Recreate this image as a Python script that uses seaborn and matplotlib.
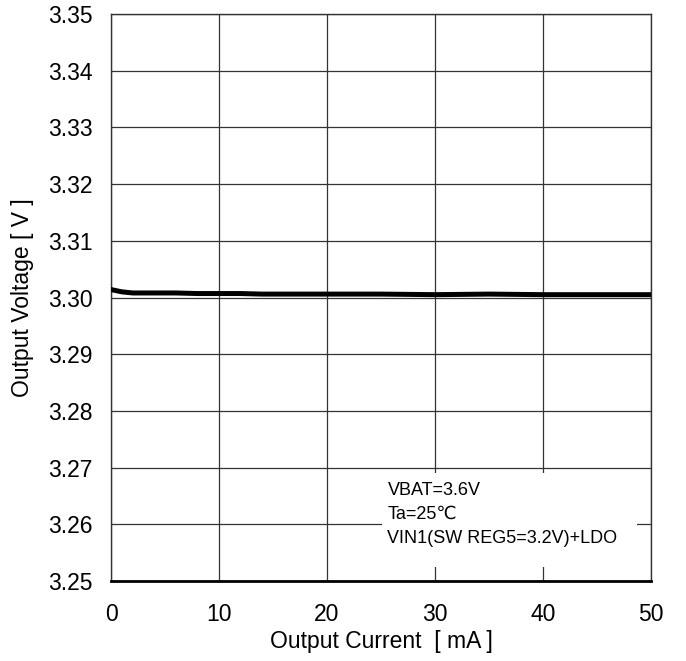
import matplotlib
matplotlib.use("Agg")
import matplotlib.pyplot as plt
import pandas as pd
import seaborn as sns

# Данные
current_ma = [0, 1, 2, 4, 6, 8, 10, 12, 14, 16, 18, 20, 25, 30, 35, 40, 45, 50]
voltage_v = [3.3014, 3.3010, 3.3008, 3.3008, 3.3008, 3.3007, 3.3007, 3.3007, 3.3006,
             3.3006, 3.3006, 3.3006, 3.3006, 3.3005, 3.3006, 3.3005, 3.3005, 3.3005]
x_ticks = [0, 10, 20, 30, 40, 50]
y_ticks = [3.25, 3.26, 3.27, 3.28, 3.29, 3.30, 3.31, 3.32, 3.33, 3.34, 3.35]
note_lines = ["VBAT=3.6V", "Ta=25\u2103", "VIN1(SW REG5=3.2V)+LDO"]

sns.set_style("white")
plt.rcParams['font.family'] = ['Liberation Sans', 'DejaVu Sans']
plt.rcParams['text.color'] = 'black'
plt.rcParams['axes.labelcolor'] = 'black'
plt.rcParams['xtick.color'] = 'black'
plt.rcParams['ytick.color'] = 'black'

df = pd.DataFrame({'Current': current_ma, 'Voltage': voltage_v})

fig = plt.figure(figsize=(6.86, 6.61), dpi=100)
ax = fig.add_axes([111 / 686, 80 / 661, 540 / 686, 567 / 661])

sns.lineplot(x='Current', y='Voltage', data=df, ax=ax, color='black', linewidth=3.6, zorder=3)

ax.set_xlim(0, 50)
ax.set_ylim(3.25, 3.35)
ax.set_xticks(x_ticks)
ax.set_yticks(y_ticks)
ax.set_yticklabels([f"{v:.2f}" for v in y_ticks])
ax.grid(True, color='#333333', linewidth=0.9)
ax.tick_params(length=0, labelsize=16.5)
ax.tick_params(axis='x', pad=16)
ax.tick_params(axis='y', pad=13)

for side in ['left', 'top', 'right']:
    ax.spines[side].set_color('#333333')
    ax.spines[side].set_linewidth(1.0)
ax.spines['bottom'].set_color('black')
ax.spines['bottom'].set_linewidth(2.0)

ax.set_xlabel('Output Current  [ mA ]', fontsize=16.5, labelpad=3)
ax.set_ylabel('Output Voltage [ V ]', fontsize=16.5, labelpad=10)

# Белая подложка под текст условий
ax.axvspan(25.1, 48.7, ymin=(3.2525 - 3.25) / 0.1, ymax=(3.269 - 3.25) / 0.1,
           color='white', zorder=2, linewidth=0)
ax.text(25.6, 3.2675, "\n".join(note_lines), fontsize=13, va='top', ha='left',
        linespacing=1.55, zorder=4)

plt.savefig("out.png", dpi=100)
